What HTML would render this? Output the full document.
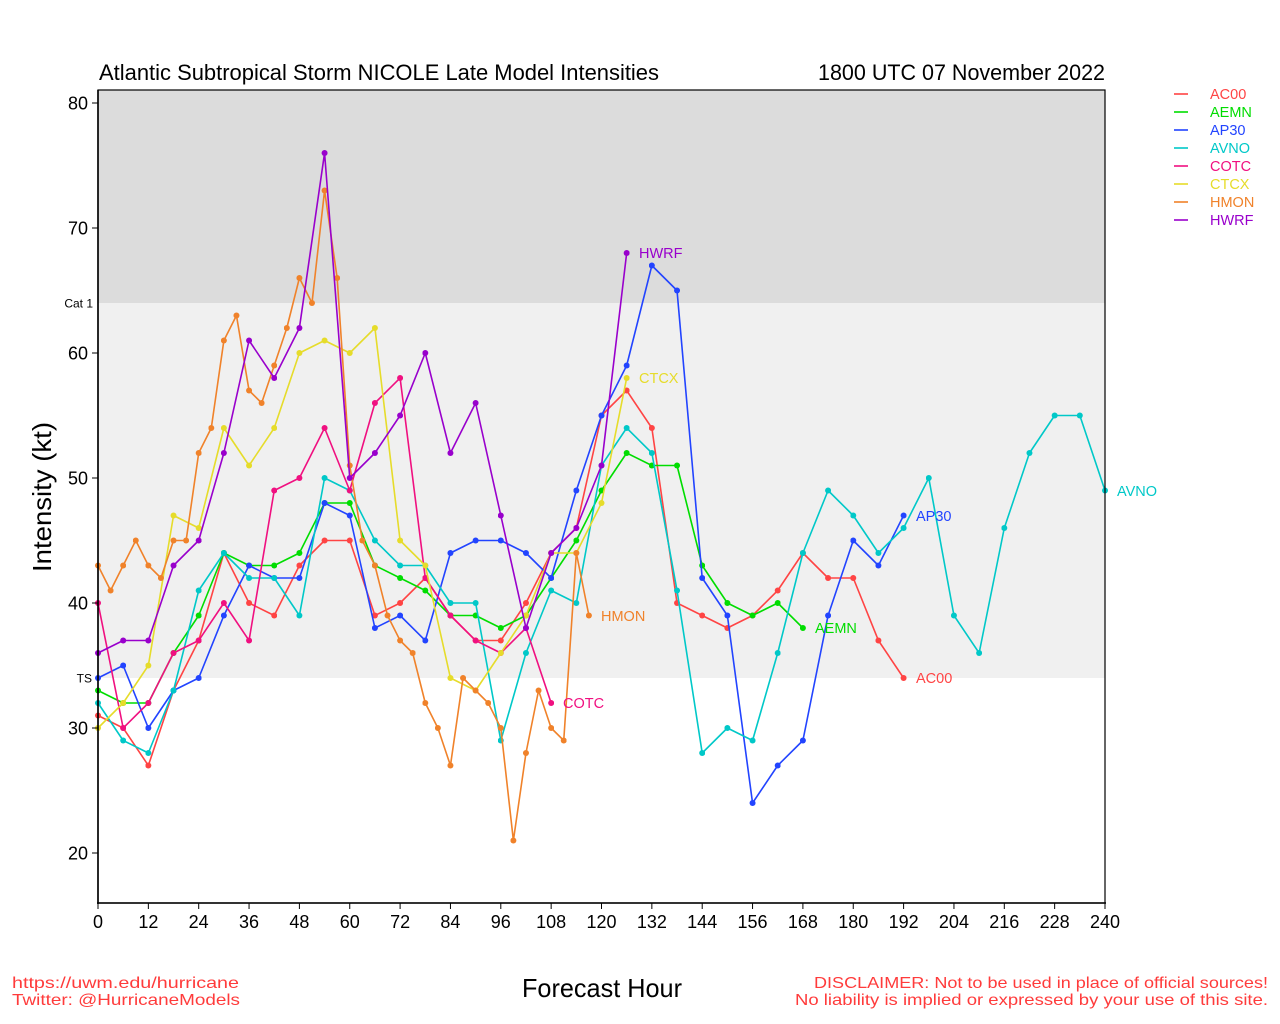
<!DOCTYPE html>
<html>
<head>
<meta charset="utf-8">
<style>
html,body{margin:0;padding:0;background:#fff;}
svg{display:block;}
text{font-family:"Liberation Sans",sans-serif;}
</style>
</head>
<body>
<svg width="1280" height="1024" viewBox="0 0 1280 1024" xmlns="http://www.w3.org/2000/svg">
<defs>
<marker id="mAC" markerUnits="userSpaceOnUse" markerWidth="1.43" markerHeight="0.48" viewBox="0 0 12 12" refX="6" refY="6" preserveAspectRatio="none"><circle cx="6" cy="6" r="6" fill="#ff4444"/></marker>
<marker id="mAE" markerUnits="userSpaceOnUse" markerWidth="1.43" markerHeight="0.48" viewBox="0 0 12 12" refX="6" refY="6" preserveAspectRatio="none"><circle cx="6" cy="6" r="6" fill="#00dd00"/></marker>
<marker id="mAP" markerUnits="userSpaceOnUse" markerWidth="1.43" markerHeight="0.48" viewBox="0 0 12 12" refX="6" refY="6" preserveAspectRatio="none"><circle cx="6" cy="6" r="6" fill="#2244ff"/></marker>
<marker id="mAV" markerUnits="userSpaceOnUse" markerWidth="1.43" markerHeight="0.48" viewBox="0 0 12 12" refX="6" refY="6" preserveAspectRatio="none"><circle cx="6" cy="6" r="6" fill="#00c8c8"/></marker>
<marker id="mCO" markerUnits="userSpaceOnUse" markerWidth="1.43" markerHeight="0.48" viewBox="0 0 12 12" refX="6" refY="6" preserveAspectRatio="none"><circle cx="6" cy="6" r="6" fill="#f01080"/></marker>
<marker id="mCT" markerUnits="userSpaceOnUse" markerWidth="1.43" markerHeight="0.48" viewBox="0 0 12 12" refX="6" refY="6" preserveAspectRatio="none"><circle cx="6" cy="6" r="6" fill="#e6dc2a"/></marker>
<marker id="mHM" markerUnits="userSpaceOnUse" markerWidth="1.43" markerHeight="0.48" viewBox="0 0 12 12" refX="6" refY="6" preserveAspectRatio="none"><circle cx="6" cy="6" r="6" fill="#f0822a"/></marker>
<marker id="mHW" markerUnits="userSpaceOnUse" markerWidth="1.43" markerHeight="0.48" viewBox="0 0 12 12" refX="6" refY="6" preserveAspectRatio="none"><circle cx="6" cy="6" r="6" fill="#9900cc"/></marker>
</defs>

<!-- background bands -->
<rect x="98" y="90" width="1007" height="213" fill="#dcdcdc"/>
<rect x="98" y="303" width="1007" height="375" fill="#f0f0f0"/>
<rect x="98" y="678" width="1007" height="225" fill="#ffffff"/>

<!-- series -->
<g transform="translate(98 1103) scale(4.1958333 -12.5)" fill="none" stroke-width="1.6" stroke-linejoin="round">
<polyline vector-effect="non-scaling-stroke" stroke="#ff4444" marker-start="url(#mAC)" marker-mid="url(#mAC)" marker-end="url(#mAC)" points="0,31 6,30 12,27 18,33 24,37 30,44 36,40 42,39 48,43 54,45 60,45 66,39 72,40 78,42 84,39 90,37 96,37 102,40 108,44 114,46 120,55 126,57 132,54 138,40 144,39 150,38 156,39 162,41 168,44 174,42 180,42 186,37 192,34"/>
<polyline vector-effect="non-scaling-stroke" stroke="#00dd00" marker-start="url(#mAE)" marker-mid="url(#mAE)" marker-end="url(#mAE)" points="0,33 6,32 12,32 18,36 24,39 30,44 36,43 42,43 48,44 54,48 60,48 66,43 72,42 78,41 84,39 90,39 96,38 102,39 108,42 114,45 120,49 126,52 132,51 138,51 144,43 150,40 156,39 162,40 168,38"/>
<polyline vector-effect="non-scaling-stroke" stroke="#2244ff" marker-start="url(#mAP)" marker-mid="url(#mAP)" marker-end="url(#mAP)" points="0,34 6,35 12,30 18,33 24,34 30,39 36,43 42,42 48,42 54,48 60,47 66,38 72,39 78,37 84,44 90,45 96,45 102,44 108,42 114,49 120,55 126,59 132,67 138,65 144,42 150,39 156,24 162,27 168,29 174,39 180,45 186,43 192,47"/>
<polyline vector-effect="non-scaling-stroke" stroke="#00c8c8" marker-start="url(#mAV)" marker-mid="url(#mAV)" marker-end="url(#mAV)" points="0,32 6,29 12,28 18,33 24,41 30,44 36,42 42,42 48,39 54,50 60,49 66,45 72,43 78,43 84,40 90,40 96,29 102,36 108,41 114,40 120,51 126,54 132,52 138,41 144,28 150,30 156,29 162,36 168,44 174,49 180,47 186,44 192,46 198,50 204,39 210,36 216,46 222,52 228,55 234,55 240,49"/>
<polyline vector-effect="non-scaling-stroke" stroke="#f01080" marker-start="url(#mCO)" marker-mid="url(#mCO)" marker-end="url(#mCO)" points="0,40 6,30 12,32 18,36 24,37 30,40 36,37 42,49 48,50 54,54 60,49 66,56 72,58 78,42 84,39 90,37 96,36 102,38 108,32"/>
<polyline vector-effect="non-scaling-stroke" stroke="#e6dc2a" marker-start="url(#mCT)" marker-mid="url(#mCT)" marker-end="url(#mCT)" points="0,30 6,32 12,35 18,47 24,46 30,54 36,51 42,54 48,60 54,61 60,60 66,62 72,45 78,43 84,34 90,33 96,36 102,39 108,44 114,44 120,48 126,58"/>
<polyline vector-effect="non-scaling-stroke" stroke="#f0822a" marker-start="url(#mHM)" marker-mid="url(#mHM)" marker-end="url(#mHM)" points="0,43 3,41 6,43 9,45 12,43 15,42 18,45 21,45 24,52 27,54 30,61 33,63 36,57 39,56 42,59 45,62 48,66 51,64 54,73 57,66 60,51 63,45 66,43 69,39 72,37 75,36 78,32 81,30 84,27 87,34 90,33 93,32 96,30 99,21 102,28 105,33 108,30 111,29 114,44 117,39"/>
<polyline vector-effect="non-scaling-stroke" stroke="#9900cc" marker-start="url(#mHW)" marker-mid="url(#mHW)" marker-end="url(#mHW)" points="0,36 6,37 12,37 18,43 24,45 30,52 36,61 42,58 48,62 54,76 60,50 66,52 72,55 78,60 84,52 90,56 96,47 102,38 108,44 114,46 120,51 126,68"/>
</g>

<!-- frame -->
<rect x="98" y="90" width="1007" height="813" fill="none" stroke="#000" stroke-width="1.2"/>
<line x1="98" y1="90" x2="98" y2="904" stroke="#000" stroke-width="1.6"/>
<line x1="97" y1="903" x2="1106" y2="903" stroke="#000" stroke-width="1.6"/>

<!-- y ticks -->
<g stroke="#000" stroke-width="1">
<line x1="92" y1="103" x2="98" y2="103"/>
<line x1="92" y1="228" x2="98" y2="228"/>
<line x1="92" y1="353" x2="98" y2="353"/>
<line x1="92" y1="478" x2="98" y2="478"/>
<line x1="92" y1="603" x2="98" y2="603"/>
<line x1="92" y1="728" x2="98" y2="728"/>
<line x1="92" y1="853" x2="98" y2="853"/>
</g>
<g font-size="18" text-anchor="end" fill="#000">
<text x="88" y="109.5">80</text>
<text x="88" y="234.5">70</text>
<text x="88" y="359.5">60</text>
<text x="88" y="484.5">50</text>
<text x="88" y="609.5">40</text>
<text x="88" y="734.5">30</text>
<text x="88" y="859.5">20</text>
</g>
<text x="93" y="307.5" font-size="12" text-anchor="end">Cat 1</text>
<text x="92" y="682.5" font-size="12" text-anchor="end">TS</text>

<!-- x ticks -->
<g stroke="#000" stroke-width="1">
<line x1="98" y1="903" x2="98" y2="909"/>
<line x1="148.35" y1="903" x2="148.35" y2="909"/>
<line x1="198.7" y1="903" x2="198.7" y2="909"/>
<line x1="249.05" y1="903" x2="249.05" y2="909"/>
<line x1="299.4" y1="903" x2="299.4" y2="909"/>
<line x1="349.75" y1="903" x2="349.75" y2="909"/>
<line x1="400.1" y1="903" x2="400.1" y2="909"/>
<line x1="450.45" y1="903" x2="450.45" y2="909"/>
<line x1="500.8" y1="903" x2="500.8" y2="909"/>
<line x1="551.15" y1="903" x2="551.15" y2="909"/>
<line x1="601.5" y1="903" x2="601.5" y2="909"/>
<line x1="651.85" y1="903" x2="651.85" y2="909"/>
<line x1="702.2" y1="903" x2="702.2" y2="909"/>
<line x1="752.55" y1="903" x2="752.55" y2="909"/>
<line x1="802.9" y1="903" x2="802.9" y2="909"/>
<line x1="853.25" y1="903" x2="853.25" y2="909"/>
<line x1="903.6" y1="903" x2="903.6" y2="909"/>
<line x1="953.95" y1="903" x2="953.95" y2="909"/>
<line x1="1004.3" y1="903" x2="1004.3" y2="909"/>
<line x1="1054.65" y1="903" x2="1054.65" y2="909"/>
<line x1="1105" y1="903" x2="1105" y2="909"/>
</g>
<g font-size="18" text-anchor="middle" fill="#000">
<text x="98" y="928">0</text>
<text x="148.35" y="928">12</text>
<text x="198.7" y="928">24</text>
<text x="249.05" y="928">36</text>
<text x="299.4" y="928">48</text>
<text x="349.75" y="928">60</text>
<text x="400.1" y="928">72</text>
<text x="450.45" y="928">84</text>
<text x="500.8" y="928">96</text>
<text x="551.15" y="928">108</text>
<text x="601.5" y="928">120</text>
<text x="651.85" y="928">132</text>
<text x="702.2" y="928">144</text>
<text x="752.55" y="928">156</text>
<text x="802.9" y="928">168</text>
<text x="853.25" y="928">180</text>
<text x="903.6" y="928">192</text>
<text x="953.95" y="928">204</text>
<text x="1004.3" y="928">216</text>
<text x="1054.65" y="928">228</text>
<text x="1105" y="928">240</text>
</g>

<!-- series end labels -->
<g font-size="14.5">
<text x="639" y="258" fill="#9900cc">HWRF</text>
<text x="639" y="383" fill="#e6dc2a">CTCX</text>
<text x="601" y="621" fill="#f0822a">HMON</text>
<text x="563" y="708" fill="#f01080">COTC</text>
<text x="815" y="633" fill="#00dd00">AEMN</text>
<text x="916" y="683" fill="#ff4444">AC00</text>
<text x="916" y="521" fill="#2244ff">AP30</text>
<text x="1117" y="496" fill="#00c8c8">AVNO</text>
</g>

<!-- titles -->
<text x="99" y="80" font-size="22" textLength="560" lengthAdjust="spacingAndGlyphs">Atlantic Subtropical Storm NICOLE Late Model Intensities</text>
<text x="818" y="80" font-size="22" textLength="287" lengthAdjust="spacingAndGlyphs">1800 UTC 07 November 2022</text>

<text x="602" y="997" font-size="26" text-anchor="middle" textLength="160" lengthAdjust="spacingAndGlyphs">Forecast Hour</text>
<text transform="translate(51 497) rotate(-90)" font-size="26" text-anchor="middle" textLength="150" lengthAdjust="spacingAndGlyphs">Intensity (kt)</text>

<!-- legend -->
<g stroke-width="1.6">
<line x1="1174" y1="94" x2="1188" y2="94" stroke="#ff4444"/>
<line x1="1174" y1="112" x2="1188" y2="112" stroke="#00dd00"/>
<line x1="1174" y1="130" x2="1188" y2="130" stroke="#2244ff"/>
<line x1="1174" y1="148" x2="1188" y2="148" stroke="#00c8c8"/>
<line x1="1174" y1="166" x2="1188" y2="166" stroke="#f01080"/>
<line x1="1174" y1="184" x2="1188" y2="184" stroke="#e6dc2a"/>
<line x1="1174" y1="202" x2="1188" y2="202" stroke="#f0822a"/>
<line x1="1174" y1="220" x2="1188" y2="220" stroke="#9900cc"/>
</g>
<g font-size="14.5">
<text x="1210" y="99" fill="#ff4444">AC00</text>
<text x="1210" y="117" fill="#00dd00">AEMN</text>
<text x="1210" y="135" fill="#2244ff">AP30</text>
<text x="1210" y="153" fill="#00c8c8">AVNO</text>
<text x="1210" y="171" fill="#f01080">COTC</text>
<text x="1210" y="189" fill="#e6dc2a">CTCX</text>
<text x="1210" y="207" fill="#f0822a">HMON</text>
<text x="1210" y="225" fill="#9900cc">HWRF</text>
</g>

<!-- footer -->
<g font-size="16" fill="#ff3b3b">
<text x="12" y="988" textLength="227" lengthAdjust="spacingAndGlyphs">https://uwm.edu/hurricane</text>
<text x="12" y="1005" textLength="228" lengthAdjust="spacingAndGlyphs">Twitter: @HurricaneModels</text>
<text x="1268" y="988" text-anchor="end" textLength="454" lengthAdjust="spacingAndGlyphs">DISCLAIMER: Not to be used in place of official sources!</text>
<text x="1268" y="1005" text-anchor="end" textLength="473" lengthAdjust="spacingAndGlyphs">No liability is implied or expressed by your use of this site.</text>
</g>
</svg>
</body>
</html>
